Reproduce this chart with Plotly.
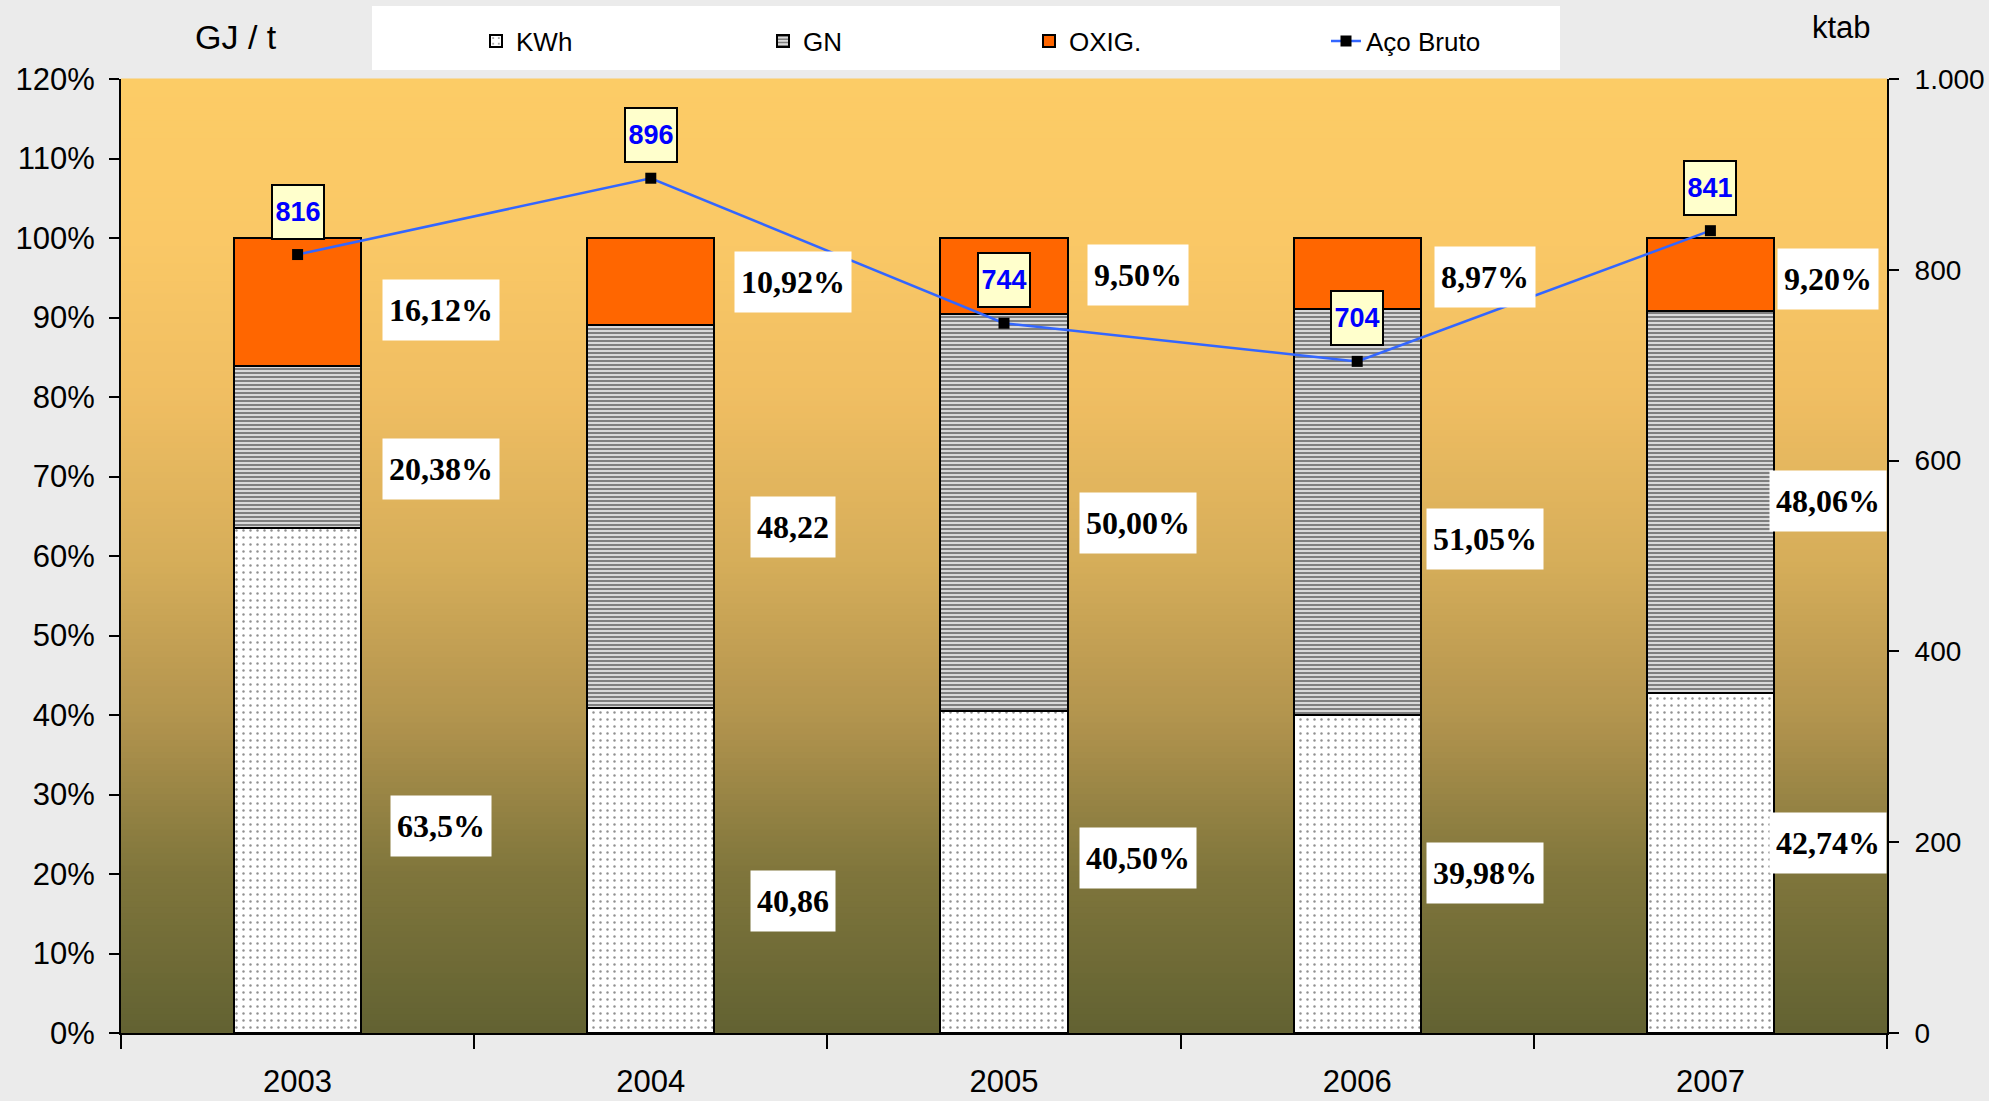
import plotly.graph_objects as go

# ---- data ----
years = ["2003", "2004", "2005", "2006", "2007"]
kwh = [63.5, 40.86, 40.50, 39.98, 42.74]
gn = [20.38, 48.22, 50.00, 51.05, 48.06]
oxig = [16.12, 10.92, 9.50, 8.97, 9.20]
aco_bruto = [816, 896, 744, 704, 841]

kwh_labels = ["63,5%", "40,86", "40,50%", "39,98%", "42,74%"]
gn_labels = ["20,38%", "48,22", "50,00%", "51,05%", "48,06%"]
oxig_labels = ["16,12%", "10,92%", "9,50%", "8,97%", "9,20%"]

# ---- label placement (layout only) ----
lab_dx = [0.405, 0.402, 0.380, 0.363, 0.334]
kwh_lab_y = [26.1, 16.6, 22.0, 20.1, 23.9]
gn_lab_y = [70.9, 63.7, 64.1, 62.2, 66.9]
oxig_lab_y = [91.0, 94.5, 95.3, 95.1, 94.8]
legend_px = [476, 763, 1029, 1326]

W, H = 1989, 1101
L, R, T, B = 121, 1887, 79, 1033
PW, PH = R - L, B - T


def px_x(px):
    return (px - L) / PW


def px_y(py):
    return (B - py) / PH


fig = go.Figure()

bar_line = dict(color="black", width=2)
fig.add_trace(go.Bar(
    name="KWh", x=years, y=[v / 100 for v in kwh], legend="legend",
    marker=dict(color="white", line=bar_line,
                pattern=dict(shape=".", fgcolor="#222222", bgcolor="white",
                             size=7, solidity=0.1)),
))
fig.add_trace(go.Bar(
    name="GN", x=years, y=[v / 100 for v in gn], legend="legend2",
    marker=dict(color="white", line=bar_line,
                pattern=dict(shape="-", fgcolor="black", bgcolor="white",
                             size=4, solidity=0.65)),
))
fig.add_trace(go.Bar(
    name="OXIG.", x=years, y=[v / 100 for v in oxig], legend="legend3",
    marker=dict(color="#FF6600", line=bar_line),
))
fig.add_trace(go.Scatter(
    name="Aço Bruto", x=years, y=aco_bruto, yaxis="y2", mode="lines+markers",
    legend="legend4",
    line=dict(color="#3366FF", width=2.5),
    marker=dict(symbol="square", size=11, color="black"),
))

# ---- gradient background (plot area) ----
stops = [
    (0.00, (252, 204, 102)),
    (0.17, (250, 200, 102)),
    (0.33, (240, 190, 98)),
    (0.50, (215, 174, 90)),
    (0.67, (178, 148, 78)),
    (0.83, (128, 118, 60)),
    (1.00, (98, 98, 50)),
]


def grad(t):
    for (t0, c0), (t1, c1) in zip(stops[:-1], stops[1:]):
        if t0 <= t <= t1:
            f = (t - t0) / (t1 - t0)
            return tuple(round(a + (b - a) * f) for a, b in zip(c0, c1))
    return stops[-1][1]


shapes = []
N = 160
for i in range(N):
    t = (i + 0.5) / N
    c = grad(t)
    shapes.append(dict(
        type="rect", xref="paper", yref="paper", layer="below",
        x0=0, x1=1, y0=1 - (i + 1) / N - 0.0005, y1=1 - i / N + 0.0005,
        fillcolor="rgb(%d,%d,%d)" % c, line=dict(width=0),
    ))
# legend white box
shapes.append(dict(
    type="rect", xref="paper", yref="paper", layer="below",
    x0=px_x(372), x1=px_x(1560), y0=px_y(70), y1=px_y(6),
    fillcolor="white", line=dict(width=0),
))

annotations = []
serif = dict(family="Liberation Serif, Times New Roman, serif", size=32, color="black")
for labels, ys in ((kwh_labels, kwh_lab_y), (gn_labels, gn_lab_y), (oxig_labels, oxig_lab_y)):
    for i, (txt, yv) in enumerate(zip(labels, ys)):
        annotations.append(dict(
            x=i + lab_dx[i], y=yv / 100, xref="x", yref="y",
            xanchor="center", yanchor="middle",
            text="<b>%s</b>" % txt, showarrow=False, font=serif,
            bgcolor="white", borderpad=6, height=48,
        ))

for i, v in enumerate(aco_bruto):
    annotations.append(dict(
        x=i, y=v, xref="x", yref="y2", yshift=43,
        xanchor="center", yanchor="middle",
        text="<b>%d</b>" % v, showarrow=False,
        font=dict(family="Liberation Sans, Arial, sans-serif", size=27, color="#0000FF"),
        bgcolor="#FFFFCC", bordercolor="black", borderwidth=2,
        width=46, height=48, borderpad=2,
    ))

annotations.append(dict(
    x=px_x(236), y=px_y(37), xref="paper", yref="paper", text="GJ / t",
    xanchor="center", yanchor="middle",
    showarrow=False, font=dict(family="Liberation Sans, Arial", size=34, color="black"),
))
annotations.append(dict(
    x=px_x(1841), y=px_y(28), xref="paper", yref="paper", text="ktab",
    xanchor="center", yanchor="middle",
    showarrow=False, font=dict(family="Liberation Sans, Arial", size=31, color="black"),
))

axis_font = dict(family="Liberation Sans, Arial, sans-serif", size=31, color="black")
right_font = dict(family="Liberation Sans, Arial, sans-serif", size=28, color="black")
legend_font = dict(family="Liberation Sans, Arial, sans-serif", size=26, color="black")


def leg(px):
    return dict(
        orientation="h", x=px_x(px), xanchor="left", y=px_y(41), yanchor="middle",
        bgcolor="rgba(0,0,0,0)", font=legend_font,
    )


fig.update_layout(
    width=W, height=H,
    margin=dict(l=L, r=W - R, t=T, b=H - B, pad=0, autoexpand=False),
    paper_bgcolor="#EBEBEB",
    plot_bgcolor="rgba(0,0,0,0)",
    barmode="stack",
    bargap=0.64,
    separators=",.",
    showlegend=True,
    legend=leg(legend_px[0]),
    legend2=leg(legend_px[1]),
    legend3=leg(legend_px[2]),
    legend4=leg(legend_px[3]),
    xaxis=dict(
        type="category", range=[-0.5, 4.5], tickson="boundaries",
        ticks="outside", ticklen=14, tickwidth=2, tickcolor="black",
        showline=True, linecolor="black", linewidth=2, showgrid=False,
        tickfont=axis_font, ticklabelstandoff=20, automargin=False,
    ),
    yaxis=dict(
        range=[0, 1.2], dtick=0.1, tickformat=".0%",
        ticks="outside", ticklen=10, tickwidth=2, tickcolor="black",
        showline=True, linecolor="black", linewidth=2, showgrid=False,
        zeroline=False, tickfont=axis_font, ticklabelstandoff=8, automargin=False,
    ),
    yaxis2=dict(
        range=[0, 1000], dtick=200, tickformat=",d", overlaying="y", side="right",
        ticks="outside", ticklen=10, tickwidth=2, tickcolor="black",
        showline=True, linecolor="black", linewidth=2, showgrid=False,
        zeroline=False, tickfont=right_font, ticklabelstandoff=10, automargin=False,
    ),
    shapes=shapes,
    annotations=annotations,
)

fig.write_html(
    "out.html",
    config={"displayModeBar": False},
    post_script="document.body.style.margin='0';document.body.style.background='#EBEBEB';",
)
